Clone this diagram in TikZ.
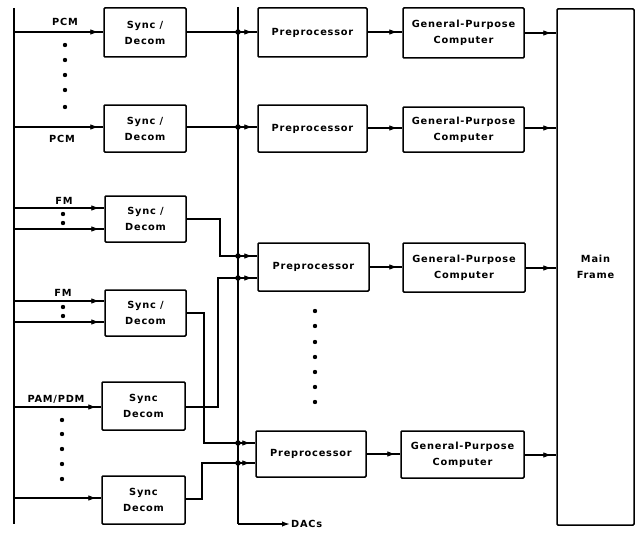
\documentclass[tikz,border=0pt]{standalone}
\usepackage{fontspec}
\newfontfamily\lblfont[LetterSpace=8]{DejaVu Sans}
\usetikzlibrary{arrows.meta,decorations.markings}
\begin{document}
\begin{tikzpicture}[x=1pt,y=-1pt,
  every node/.style={font=\lblfont\bfseries\fontsize{9.8}{16}\selectfont},
  blk/.style={draw,line width=1.5pt,rounded corners=1pt,align=center,inner sep=0pt,minimum width=#1},
  ln/.style={line width=1.5pt},
  arr/.style={ln,postaction={decorate},decoration={markings,mark=at position -5pt with {\arrow[line width=0.8pt]{Latex[length=8pt,width=5.5pt]}}}},
  jdot/.style={circle,fill,inner sep=0pt,minimum size=5.5pt}
]
\useasboundingbox (0,0) rectangle (640,535);
% buses
\coordinate (lbT) at (14,8);
\coordinate (lbB) at (14,524);
\coordinate (mbT) at (238,7);
\coordinate (mbB) at (238,524);
\draw[ln] (lbT) -- (lbB);
% Sync/Decom boxes
\node[blk=82pt,minimum height=49pt] (S1) at (145,32.5) {Sync /\\Decom};
\node[blk=82pt,minimum height=47pt] (S2) at (145,128.5) {Sync /\\Decom};
\node[blk=81pt,minimum height=46pt] (S3) at (145.5,219) {Sync /\\Decom};
\node[blk=81pt,minimum height=46pt] (S4) at (145.5,313) {Sync /\\Decom};
\node[blk=83pt,minimum height=48pt] (S5) at (143.5,406) {Sync\\Decom};
\node[blk=83pt,minimum height=48pt] (S6) at (143.5,500) {Sync\\Decom};
% Preprocessors
\node[blk=109pt,minimum height=49pt] (P1) at (312.5,32.5) {Preprocessor};
\node[blk=109pt,minimum height=47pt] (P2) at (312.5,128.5) {Preprocessor};
\node[blk=111pt,minimum height=48pt] (P3) at (313.5,267) {Preprocessor};
\node[blk=110pt,minimum height=46pt] (P4) at (311,454) {Preprocessor};
% General-purpose computers
\node[blk=121pt,minimum height=50pt] (G1) at (463.5,33) {General-Purpose\\Computer};
\node[blk=121pt,minimum height=45pt] (G2) at (463.5,129.5) {General-Purpose\\Computer};
\node[blk=122pt,minimum height=49pt] (G3) at (464,267.5) {General-Purpose\\Computer};
\node[blk=123pt,minimum height=47pt] (G4) at (462.5,454.5) {General-Purpose\\Computer};
% Main frame
\node[blk=77pt,minimum height=516pt] (M) at (595.5,267) {Main\\Frame};
% middle bus and DACs
\node[anchor=west,inner sep=1pt] (dac) at (290,524) {DACs};
\draw[ln] (mbT) -- (mbB);
\draw[ln,-{Latex[length=8pt,width=5.5pt]}] (mbB) -- (dac.west);
% inputs
\coordinate (i1) at (14,32);   \draw[arr] (i1) -- (i1 -| S1.west);
\coordinate (i2) at (14,127);  \draw[arr] (i2) -- (i2 -| S2.west);
\coordinate (i3a) at (14,208); \draw[arr] (i3a) -- (i3a -| S3.west);
\coordinate (i3b) at (14,229); \draw[arr] (i3b) -- (i3b -| S3.west);
\coordinate (i4a) at (14,301); \draw[arr] (i4a) -- (i4a -| S4.west);
\coordinate (i4b) at (14,322); \draw[arr] (i4b) -- (i4b -| S4.west);
\coordinate (i5) at (14,407);  \draw[arr] (i5) -- (i5 -| S5.west);
\coordinate (i6) at (14,498);  \draw[arr] (i6) -- (i6 -| S6.west);
% input labels
\node (lp1) at (65,22) {PCM};
\node (lp2) at (62,139) {PCM};
\node (lf1) at (64,201) {FM};
\node (lf2) at (63,293) {FM};
\node (lpam) at (56,399) {PAM/PDM};
% dots
\foreach \y in {45,60,75,90,107} \fill (65,\y) circle (2.2pt);
\foreach \y in {214,223} \fill (63,\y) circle (2.2pt);
\foreach \y in {307,316} \fill (63,\y) circle (2.2pt);
\foreach \y in {420,434,449,464,479} \fill (62,\y) circle (2.2pt);
\foreach \y in {311,326,342,357,372,387,402} \fill (315,\y) circle (2.2pt);
% sync outputs to bus
\coordinate (j1) at (238,32);
\coordinate (j2) at (238,127);
\coordinate (j3) at (238,256);
\coordinate (j5) at (238,278);
\coordinate (j4) at (238,443);
\coordinate (j6) at (238,463);
\draw[ln] (S1.east |- j1) -- (j1);
\draw[ln] (S2.east |- j2) -- (j2);
\draw[ln] (S3.east |- 0,219) -- (220,219) -- (220,256) -- (j3);
\draw[ln] (S5.east |- 0,407) -- (218,407) -- (218,278) -- (j5);
\draw[ln] (S4.east |- 0,313) -- (204,313) -- (204,443) -- (j4);
\draw[ln] (S6.east |- 0,499) -- (202,499) -- (202,463) -- (j6);
\foreach \j in {j1,j2,j3,j5,j4,j6} \node[jdot] at (\j) {};
% bus to preprocessors
\draw[arr] (j1) -- (j1 -| P1.west);
\draw[arr] (j2) -- (j2 -| P2.west);
\draw[arr] (j3) -- (j3 -| P3.west);
\draw[arr] (j5) -- (j5 -| P3.west);
\draw[arr] (j4) -- (j4 -| P4.west);
\draw[arr] (j6) -- (j6 -| P4.west);
% preprocessors to computers
\draw[arr] (P1.east |- 0,32) -- (G1.west |- 0,32);
\draw[arr] (P2.east |- 0,128) -- (G2.west |- 0,128);
\draw[arr] (P3.east |- 0,267) -- (G3.west |- 0,267);
\draw[arr] (P4.east |- 0,454) -- (G4.west |- 0,454);
% computers to main frame
\draw[arr] (G1.east |- 0,33) -- (M.west |- 0,33);
\draw[arr] (G2.east |- 0,128) -- (M.west |- 0,128);
\draw[arr] (G3.east |- 0,268) -- (M.west |- 0,268);
\draw[arr] (G4.east |- 0,455) -- (M.west |- 0,455);
\end{tikzpicture}
\end{document}
